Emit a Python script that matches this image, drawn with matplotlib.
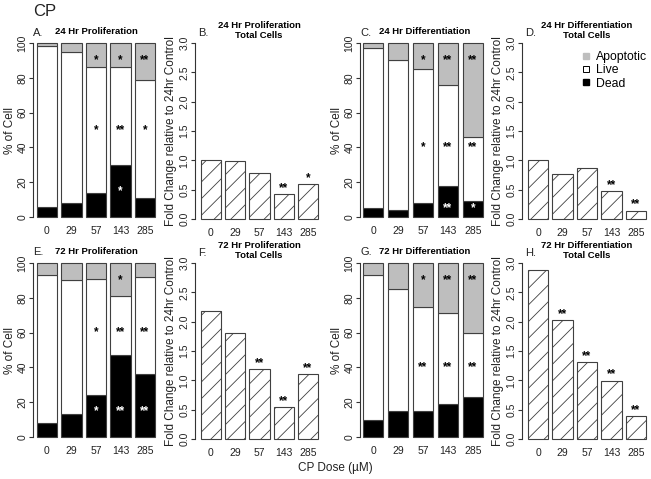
import matplotlib.pyplot as plt
import numpy as np

plt.rcParams['font.family'] = ['Liberation Sans', 'DejaVu Sans']
plt.rcParams['hatch.linewidth'] = 0.6

doses = ['0', '29', '57', '143', '285']

# % of cells (dead / live / apoptotic)
dead_24p = [6, 8, 14, 30, 11]
live_24p = [92, 87, 72, 56, 68]
apop_24p = [2, 5, 14, 14, 21]

dead_24d = [5, 4, 8, 18, 9]
live_24d = [92, 86, 77, 58, 37]
apop_24d = [3, 10, 15, 24, 54]

dead_72p = [8, 13, 24, 47, 36]
live_72p = [85, 77, 67, 34, 56]
apop_72p = [7, 10, 9, 19, 8]

dead_72d = [10, 15, 15, 19, 23]
live_72d = [83, 70, 60, 52, 37]
apop_72d = [7, 15, 25, 29, 40]

# fold change relative to 24hr control
fold_24p = [1.0, 0.99, 0.78, 0.42, 0.59]
fold_24d = [1.0, 0.77, 0.87, 0.47, 0.14]
fold_72p = [2.18, 1.80, 1.19, 0.54, 1.10]
fold_72d = [2.88, 2.02, 1.31, 0.99, 0.39]

# significance marks
sig_apop_24p = ['', '', '*', '*', '**']
sig_live_24p = ['', '', '*', '**', '*']
sig_dead_24p = ['', '', '', '*', '']
sig_apop_24d = ['', '', '*', '**', '**']
sig_live_24d = ['', '', '*', '**', '**']
sig_dead_24d = ['', '', '', '**', '*']
sig_apop_72p = ['', '', '', '*', '']
sig_live_72p = ['', '', '*', '**', '**']
sig_dead_72p = ['', '', '*', '**', '**']
sig_apop_72d = ['', '', '*', '**', '**']
sig_live_72d = ['', '', '**', '**', '**']
sig_dead_72d = ['', '', '', '', '']
sig_fold_24p = ['', '', '', '**', '*']
sig_fold_24d = ['', '', '', '**', '**']
sig_fold_72p = ['', '', '**', '**', '**']
sig_fold_72d = ['', '**', '**', '**', '**']

W, H = 651, 479
fig = plt.figure(figsize=(W / 100, H / 100), dpi=100)

GRAY = '#bebebe'
EDGE = '#404040'
TICK_FS = 7.5
LAB_FS = 8.5
STAR_FS = 8.5
x = np.arange(5) * 1.2


def ptext(px, py, s, **kw):
    return fig.text(px / W, 1 - py / H, s, **kw)


def make_ax(axis_x, first_c, last_c, y_top, y_bot, lo, hi):
    # pixel geometry -> axes in figure fraction (R style 4% padding)
    u = (last_c - first_c) / 4.8
    x0 = -(first_c - axis_x) / u
    x1 = 4.8 + 0.5 + 0.24
    pad = (hi - lo) * 0.04
    py = (y_bot - y_top) / (hi - lo)
    top = y_top - pad * py
    bot = y_bot + pad * py
    width = (x1 - x0) * u
    ax = fig.add_axes([axis_x / W, 1 - bot / H, width / W, (bot - top) / H])
    ax.set_xlim(x0, x1)
    ax.set_ylim(lo - pad, hi + pad)
    for s in ['top', 'right', 'bottom']:
        ax.spines[s].set_visible(False)
    ax.spines['left'].set_bounds(lo, hi)
    ax.spines['left'].set_linewidth(0.8)
    ax.spines['left'].set_color('#333333')
    ax.set_xticks(x)
    ax.set_xticklabels(doses, fontsize=TICK_FS, color='#222222')
    ax.tick_params(axis='x', length=0, pad=1.5)
    ax.tick_params(axis='y', labelsize=TICK_FS, labelrotation=90, length=3,
                   width=0.8, color='#333333', pad=1, labelcolor='#222222')
    ax.patch.set_visible(False)
    ax.cx = axis_x + width / 2
    ax.ax_x = axis_x
    return ax


def stacked(ax, dead, live, apop, sd, sl, sa, y_live, y_dead, title, letter, y_title):
    dead = np.array(dead)
    live = np.array(live)
    apop = np.array(apop)
    ax.bar(x, dead, width=1, color='black', edgecolor=EDGE, linewidth=0.8)
    ax.bar(x, live, width=1, bottom=dead, color='white', edgecolor=EDGE, linewidth=0.8)
    ax.bar(x, apop, width=1, bottom=dead + live, color=GRAY, edgecolor=EDGE, linewidth=0.8)
    ax.set_yticks([0, 20, 40, 60, 80, 100])
    for lab in ax.get_yticklabels():
        lab.set_va('center')
    ax.set_ylabel('% of Cell', fontsize=LAB_FS, labelpad=1.0, color='#222222')
    for i in range(5):
        ax.text(x[i], 90, sa[i], ha='center', va='center', fontsize=STAR_FS, fontweight='bold')
        ax.text(x[i], y_live, sl[i], ha='center', va='center', fontsize=STAR_FS, fontweight='bold')
        ax.text(x[i], y_dead, sd[i], ha='center', va='center', fontsize=STAR_FS,
                fontweight='bold', color='white')
    ptext(ax.cx, y_title, title, fontsize=6.8, fontweight='bold', ha='center', va='center')
    ptext(ax.ax_x, y_title + 1, letter, fontsize=8, ha='left', va='center', color='#222222')


def fold(ax, vals, sig, title, letter, y_title):
    ax.bar(x, vals, width=1, color='white', edgecolor=EDGE, linewidth=0.8, hatch='//')
    ax.set_yticks([0, 0.5, 1.0, 1.5, 2.0, 2.5, 3.0])
    ax.set_yticklabels(['0.0', '0.5', '1.0', '1.5', '2.0', '2.5', '3.0'])
    for lab in ax.get_yticklabels():
        lab.set_va('center')
    ax.set_ylabel('Fold Change relative to 24hr Control', fontsize=LAB_FS, labelpad=2.0,
                  color='#222222')
    for i in range(5):
        ax.text(x[i], vals[i] + 0.005, sig[i], ha='center', va='bottom', fontsize=STAR_FS,
                fontweight='bold')
    ptext(ax.cx, y_title - 5, title[0], fontsize=6.8, fontweight='bold', ha='center', va='center')
    ptext(ax.cx, y_title + 5, title[1], fontsize=6.8, fontweight='bold', ha='center', va='center')
    ptext(ax.ax_x + 3, y_title + 3, letter, fontsize=8, ha='left', va='center', color='#222222')


axA = make_ax(33, 47, 145, 43, 217, 0, 100)
stacked(axA, dead_24p, live_24p, apop_24p, sig_dead_24p, sig_live_24p, sig_apop_24p,
        50, 15, '24 Hr Proliferation', 'A.', 32)
axB = make_ax(195, 211, 308, 43, 219, 0, 3)
fold(axB, fold_24p, sig_fold_24p, ['24 Hr Proliferation', 'Total Cells'], 'B.', 30)
axC = make_ax(360, 373, 473, 43, 217, 0, 100)
stacked(axC, dead_24d, live_24d, apop_24d, sig_dead_24d, sig_live_24d, sig_apop_24d,
        40, 5, '24 Hr Differentiation', 'C.', 32)
axD = make_ax(522, 538, 636, 43, 219, 0, 3)
fold(axD, fold_24d, sig_fold_24d, ['24 Hr Differentiation', 'Total Cells'], 'D.', 30)

axE = make_ax(33, 47, 145, 263, 437, 0, 100)
stacked(axE, dead_72p, live_72p, apop_72p, sig_dead_72p, sig_live_72p, sig_apop_72p,
        60, 15, '72 Hr Proliferation', 'E.', 251)
axF = make_ax(195, 211, 308, 263, 439, 0, 3)
fold(axF, fold_72p, sig_fold_72p, ['72 Hr Proliferation', 'Total Cells'], 'F.', 250)
axG = make_ax(360, 373, 473, 263, 437, 0, 100)
stacked(axG, dead_72d, live_72d, apop_72d, sig_dead_72d, sig_live_72d, sig_apop_72d,
        40, 5, '72 Hr Differentiation', 'G.', 251)
axH = make_ax(522, 538, 636, 263, 439, 0, 3)
fold(axH, fold_72d, sig_fold_72d, ['72 Hr Differentiation', 'Total Cells'], 'H.', 250)

# legend in panel D
handles = [
    plt.Line2D([], [], marker='s', ls='', markersize=4.5, markerfacecolor=GRAY, markeredgecolor=GRAY),
    plt.Line2D([], [], marker='s', ls='', markersize=4.5, markerfacecolor='white',
               markeredgecolor='black', markeredgewidth=0.7),
    plt.Line2D([], [], marker='s', ls='', markersize=4.5, markerfacecolor='black', markeredgecolor='black'),
]
axD.legend(handles, ['Apoptotic', 'Live', 'Dead'], loc='upper left', frameon=False,
           fontsize=8.8, handletextpad=0.3, labelspacing=0.1, handlelength=1.0,
           bbox_to_anchor=((580 - 522) / 129, 0.92), borderpad=0, borderaxespad=0)

ptext(33, 12, 'CP', fontsize=12, ha='left', va='center', color='#222222')
ptext(298, 468, 'CP Dose (\u00b5M)', fontsize=LAB_FS, ha='left', va='center', color='#222222')

fig.savefig('out.png', dpi=100)
